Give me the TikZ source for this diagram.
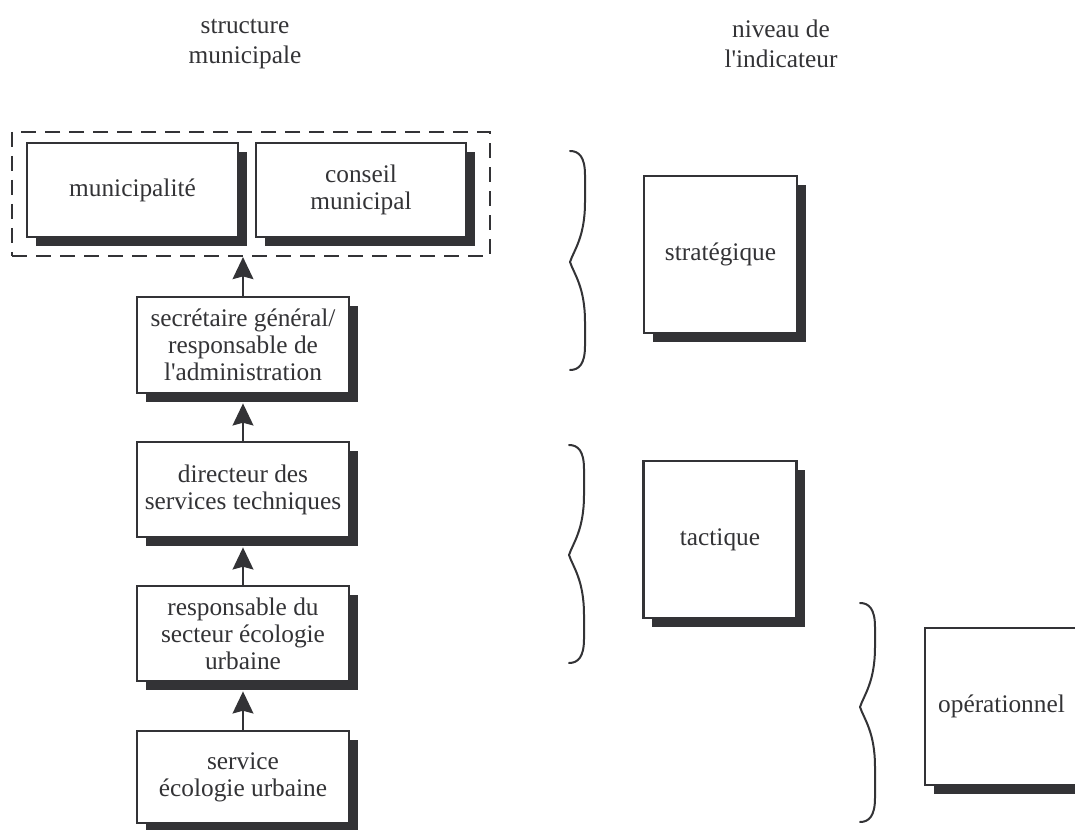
\documentclass[tikz,border=0pt]{standalone}
\usepackage{fontspec}
\setmainfont{Liberation Serif}
\usetikzlibrary{arrows.meta,shadows}
\definecolor{ink}{HTML}{333336}
\newcommand{\curlybr}[4]{%
  \draw[bracestyle] (#1,#2) .. controls ({#1+9},#2) and ({#1+15},{#2+6}) .. ({#1+15},{#2+24})
    -- ({#1+15},{#3-60}) .. controls ({#1+15},{#3-25}) and ({#1+4},{#3-12}) .. (#1,#3)
    .. controls ({#1+4},{#3+12}) and ({#1+15},{#3+25}) .. ({#1+15},{#3+60})
    -- ({#1+15},{#4-24}) .. controls ({#1+15},{#4-6}) and ({#1+9},#4) .. (#1,#4);}
\begin{document}
\begin{tikzpicture}[x=0.75pt,y=-0.75pt,
  txt/.style={align=center, text=ink, font=\fontsize{19}{22}\selectfont},
  box/.style={draw=ink, line width=1.6pt, fill=white, align=center, inner sep=0pt,
    text=ink, font=\fontsize{19}{20.3}\selectfont,
    drop shadow={shadow xshift=6.5pt, shadow yshift=-7pt, fill=ink, opacity=1}},
  grpbox/.style={draw=ink, line width=1.6pt, dash pattern=on 11pt off 7pt, inner sep=0pt},
  arr/.style={draw=ink, line width=1.9pt, -{Stealth[length=16.5pt, width=15.5pt, inset=2pt]}},
  bracestyle/.style={draw=ink, line width=1.5pt, line cap=round, line join=round}]
\clip (0,0) rectangle (1075,830);
\fill[white] (0,0) rectangle (1075,830);

% headers
\node[txt] (h1) at (245,44) {structure\\municipale};
\node[txt] (h2) at (781,44) {niveau de\\l\textquotesingle indicateur};

% group
\node[grpbox, minimum width=358.5pt, minimum height=93pt] (grp) at (251,194) {};
\node[box, minimum width=158.25pt, minimum height=70.5pt] (muni) at (132.5,190) {municipalité};
\node[box, minimum width=157.5pt, minimum height=70.5pt] (cons) at (361,190) {conseil\\municipal};

% column
\node[box, minimum width=159pt, minimum height=72pt] (secr) at (243,345) {secrétaire général/\\responsable de\\l\textquotesingle administration};
\node[box, minimum width=159pt, minimum height=71.25pt] (dir) at (243,489.5) {directeur des\\services techniques};
\node[box, minimum width=159pt, minimum height=71.25pt] (resp) at (243,633.5) {responsable du\\secteur écologie\\urbaine};
\node[box, minimum width=159pt, minimum height=69pt] (serv) at (243,777) {service\\écologie urbaine};

% arrows
\draw[arr] (secr.north) -- (secr.north |- grp.south);
\draw[arr] (dir.north) -- ([yshift=-7pt]secr.south);
\draw[arr] (resp.north) -- ([yshift=-7pt]dir.south);
\draw[arr] (serv.north) -- ([yshift=-7pt]resp.south);

% levels
\node[box, minimum width=114.75pt, minimum height=117.75pt] (strat) at (720.5,254.5) {stratégique};
\node[box, minimum width=114.75pt, minimum height=117.75pt] (tact) at (720,539.5) {tactique};
\node[box, minimum width=114.75pt, minimum height=117.75pt] (oper) at (1001.5,706.5) {opérationnel};

% braces
\curlybr{570}{151}{262}{370}
\curlybr{569}{445}{555}{663}
\curlybr{860}{603}{707}{822}
\end{tikzpicture}
\end{document}
